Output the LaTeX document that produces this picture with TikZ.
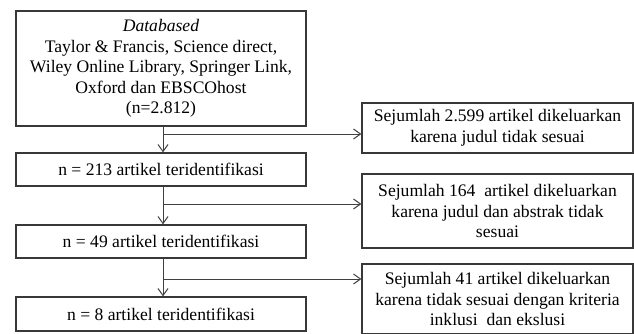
\documentclass[tikz,border=0pt]{standalone}
\usepackage{fontspec}
\setmainfont{Liberation Serif}
\usetikzlibrary{arrows.meta}
\begin{document}
\begin{tikzpicture}[x=1pt,y=1pt,
  box/.style={draw=black!78, line width=1.3pt, fill=white, align=center, inner sep=0pt,
    font=\fontsize{17.6}{20.5}\selectfont, text=black},
  conn/.style={draw=black!75, line width=1pt},
  arr/.style={conn, -{Straight Barb[length=7pt,width=10pt,line width=1pt]}}]
\useasboundingbox (0,0) rectangle (634,333);
% left column (y from top: 333 - y)
\node[box, minimum width=290pt, minimum height=115pt] (A) at (161,333-68.5)
  {\textit{Databased}\\Taylor \& Francis, Science direct,\\Wiley Online Library, Springer Link,\\Oxford dan EBSCOhost\\(n=2.812)};
\node[box, minimum width=290pt, minimum height=33pt] (B) at (161,333-169.5) {n = 213 artikel teridentifikasi};
\node[box, minimum width=290pt, minimum height=33pt] (C) at (161,333-241.5) {n = 49 artikel teridentifikasi};
\node[box, minimum width=290pt, minimum height=34pt] (D) at (161,333-314) {n = 8 artikel teridentifikasi};
% right column
\node[box, minimum width=271pt, minimum height=50pt] (R1) at (497.5,333-128) {Sejumlah 2.599 artikel dikeluarkan\\karena judul tidak sesuai};
\node[box, minimum width=271pt, minimum height=74pt] (R2) at (497.5,333-211) {Sejumlah 164\ \ artikel dikeluarkan\\karena judul dan abstrak tidak\\sesuai};
\node[box, minimum width=271pt, minimum height=70pt] (R3) at (497.5,333-299) {Sejumlah 41 artikel dikeluarkan\\karena tidak sesuai dengan kriteria\\inklusi\ \ dan ekslusi};
% trunk branch points
\coordinate (b1) at (163,333-134);
\coordinate (b2) at (163,333-204);
\coordinate (b3) at (163,333-279);
\draw[arr] (A.south -| b1) -- (B.north -| b1);
\draw[arr] (B.south -| b2) -- (C.north -| b2);
\draw[arr] (C.south -| b3) -- (D.north -| b3);
\draw[arr] (b1) -- (b1 -| R1.west);
\draw[arr] (b2) -- (b2 -| R2.west);
\draw[arr] (b3) -- (b3 -| R3.west);
\end{tikzpicture}
\end{document}
